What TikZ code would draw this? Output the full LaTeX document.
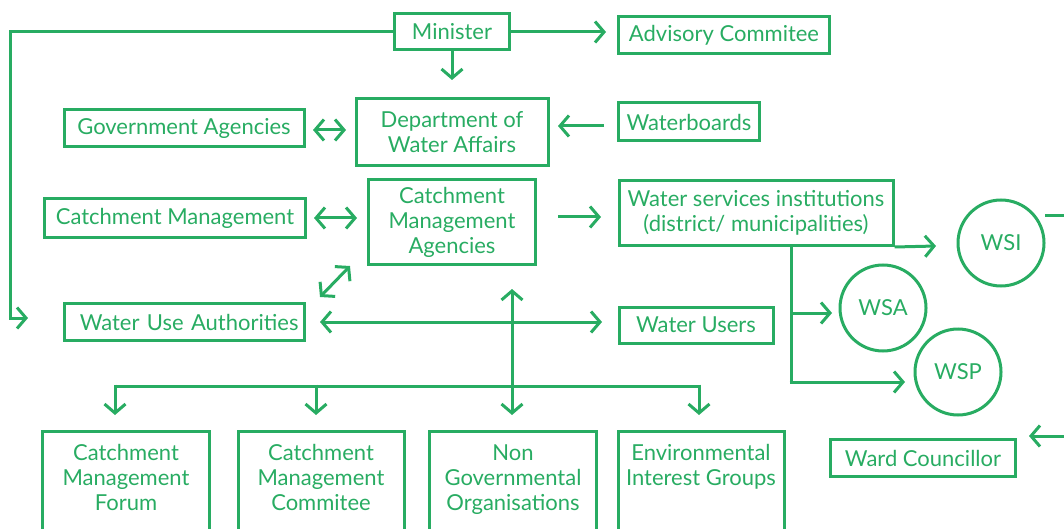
\documentclass[tikz,border=0pt]{standalone}
\usepackage{fontspec}
\setmainfont{Lato}
\usetikzlibrary{arrows.meta}

\definecolor{eauvert}{RGB}{40,172,98}

\tikzset{
  boite/.style={draw=eauvert, line width=3, text=eauvert, inner sep=0pt,
    font=\fontsize{22}{25}\selectfont, align=center},
  texte/.style={text=eauvert, inner sep=0pt, font=\fontsize{22}{25}\selectfont, align=center},
  rond/.style={boite, circle, minimum size=86},
  fleche/.style={draw=eauvert, line width=3, -{Straight Barb[length=9pt, width=21pt, line width=3pt]}},
  double/.style={draw=eauvert, line width=3, {Straight Barb[length=9pt, width=21pt, line width=3pt]}-{Straight Barb[length=9pt, width=21pt, line width=3pt]}},
  trait/.style={draw=eauvert, line width=3},
}

\begin{document}
\begin{tikzpicture}[x=1pt, y=-1pt]

  % Bounding box of the scheme
  \clip (0,0) rectangle (1064,529) ;

  %%%%%%%%%%%%%%%%%%%%%%%%%%%%%%%%% Boxes %%%%%%%%%%%%%%%%%%%%%%%%%%%%%%%%%%%%
  \draw (452,32) node[boite, minimum width=115, minimum height=36] (minister) {Minister} ;
  \draw (724,35) node[boite, minimum width=211, minimum height=37] (advisory) {Advisory Commitee} ;
  \draw (452,132) node[boite, minimum width=192, minimum height=67] (dwa) {Department of\\Water Affairs} ;
  \draw (184,128) node[boite, minimum width=240, minimum height=37] (gov) {Government Agencies} ;
  \draw (689,122) node[boite, minimum width=141, minimum height=38] (waterboards) {Waterboards} ;
  \draw (175,218) node[boite, minimum width=261, minimum height=38] (catchment) {Catchment Management} ;
  \draw (452,222) node[boite, minimum width=167, minimum height=84] (cma) {Catchment\\Management\\Agencies} ;
  \draw (756,213) node[boite, minimum width=274, minimum height=65] (wsinst) {Water services institutions\\(district/ municipalities)} ;
  \draw (184,322) node[boite, minimum width=240, minimum height=37, text width=229, align=right] (wua) {Water Use Authorities} ;
  \draw (696,325) node[boite, minimum width=154, minimum height=36] (users) {Water Users} ;
  \draw (923,458) node[boite, minimum width=185, minimum height=37] (ward) {Ward Councillor} ;

  % Circles of the water services
  \draw (1001,243) node[rond] (wsi) {WSI} ;
  \draw (883,308) node[rond] (wsa) {WSA} ;
  \draw (958,372) node[rond] (wsp) {WSP} ;

  % Bottom boxes (cut by the page)
  \draw (126,496) node[boite, minimum width=167, minimum height=130] (forum) {} ;
  \draw (321,496) node[boite, minimum width=166, minimum height=130] (committee) {} ;
  \draw (513,496) node[boite, minimum width=167, minimum height=130] (ngo) {} ;
  \draw (701,496) node[boite, minimum width=166, minimum height=130] (env) {} ;

  \draw (forum.north) node[texte, anchor=north, yshift=-15] (forumT) {Catchment\\Management\\Forum} ;
  \draw (committee.north) node[texte, anchor=north, yshift=-15] (committeeT) {Catchment\\Management\\Commitee} ;
  \draw (ngo.north) node[texte, anchor=north, yshift=-15] (ngoT) {Non\\Governmental\\Organisations} ;
  \draw (env.north) node[texte, anchor=north, yshift=-15] (envT) {Environmental\\Interest Groups} ;

  %%%%%%%%%%%%%%%%%%%%%%%%%%%%%%%%% Arrow ends %%%%%%%%%%%%%%%%%%%%%%%%%%%%%%%%%%%%
  \coordinate (coinMin) at (10,318) ;
  \coordinate (wuaIn) at (28,318) ;
  \coordinate (advIn) at (606,32) ;
  \coordinate (dwaIn) at (452,80) ;
  \coordinate (govA) at (313,130) ;
  \coordinate (govB) at (346,130) ;
  \coordinate (wbA) at (604,126) ;
  \coordinate (wbB) at (558,126) ;
  \coordinate (catA) at (314,218) ;
  \coordinate (catB) at (357,218) ;
  \coordinate (cmaA) at (558,217) ;
  \coordinate (cmaB) at (601,217) ;
  \coordinate (diagA) at (320,297) ;
  \coordinate (diagB) at (350,266) ;
  \coordinate (wuaA) at (320,322) ;
  \coordinate (wuaB) at (602,322) ;
  \coordinate (vertA) at (512,289) ;
  \coordinate (vertB) at (512,415) ;
  \coordinate (busA) at (115,386) ;
  \coordinate (busB) at (699,386) ;
  \coordinate (wsiIn) at (936,246) ;
  \coordinate (branche) at (791,246) ;
  \coordinate (brancheA) at (791,313) ;
  \coordinate (brancheP) at (791,382) ;
  \coordinate (wsaIn) at (832,313) ;
  \coordinate (wspIn) at (905,382) ;
  \coordinate (wsiA) at (1045,216) ;
  \coordinate (wsiB) at (1070,216) ;
  \coordinate (wardA) at (1070,436) ;
  \coordinate (wardB) at (1029,436) ;

  %%%%%%%%%%%%%%%%%%%%%%%%%%%%%%%%% Connectors %%%%%%%%%%%%%%%%%%%%%%%%%%%%%%%%%%%%
  \draw[fleche] (minister.west) -| (coinMin) -- (wuaIn) ;
  \draw[fleche] (minister.east) -- (advIn) ;
  \draw[fleche] (minister.south) -- (dwaIn) ;
  \draw[double] (govA) -- (govB) ;
  \draw[fleche] (wbA) -- (wbB) ;
  \draw[double] (catA) -- (catB) ;
  \draw[fleche] (cmaA) -- (cmaB) ;
  \draw[double] (diagA) -- (diagB) ;
  \draw[double] (wuaA) -- (wuaB) ;
  \draw[double] (vertA) -- (vertB) ;

  % Bus towards the bottom boxes
  \draw[trait] (busA) -- (busB) ;
  \foreach \x in {115,316,699} {
    \draw[fleche] (\x,384.5) -- (\x,415) ;
  }

  % Water services branches
  \draw[fleche] (wsinst.south east) -- (wsiIn) ;
  \draw[trait] (branche) -- (brancheP) ;
  \draw[fleche] (brancheA) -- (wsaIn) ;
  \draw[fleche] ([xshift=-1.5]brancheP) -- (wspIn) ;
  \draw[trait] (wsiA) -- (wsiB) ;
  \draw[fleche] (wardA) -- (wardB) ;

\end{tikzpicture}
\end{document}
